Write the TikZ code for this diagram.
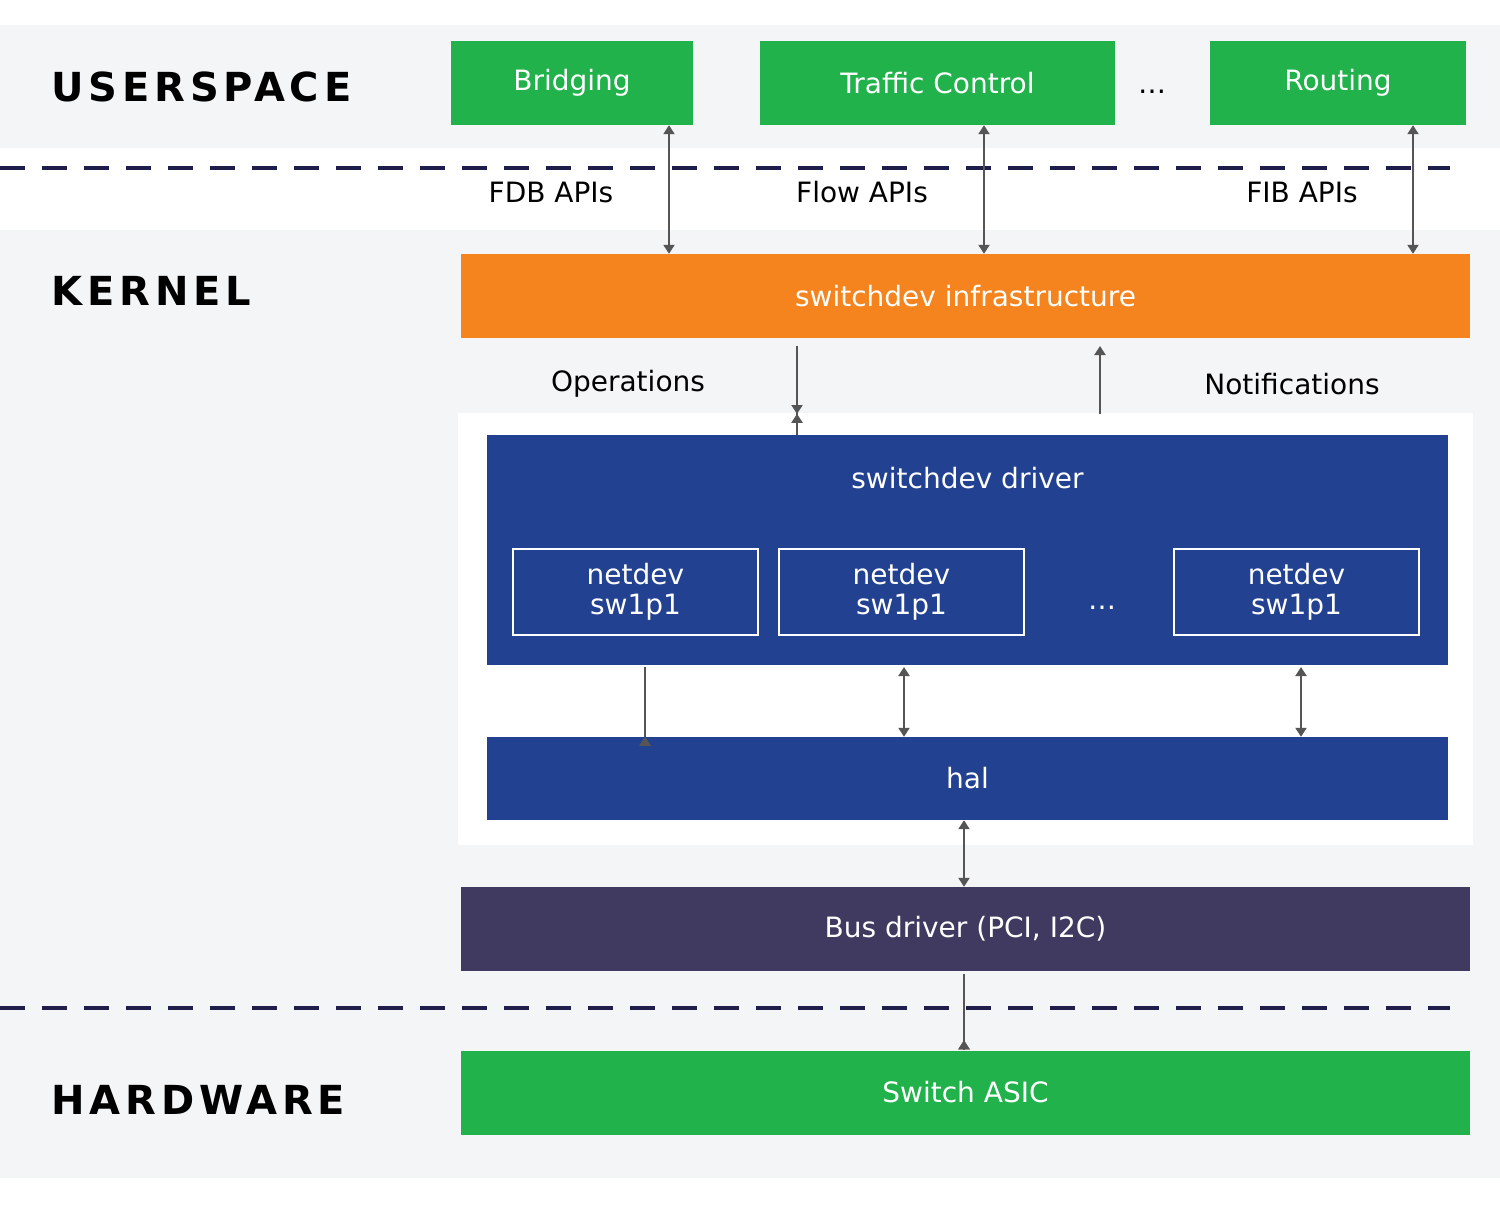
\documentclass[tikz,border=0pt]{standalone}
\usepackage{fontspec}
\setmainfont{DejaVu Sans}
\newfontfamily\headfont{DejaVu Sans}[LetterSpace=12]
\usetikzlibrary{arrows.meta,positioning}
\definecolor{bggrey}{HTML}{F4F5F7}
\definecolor{boxgreen}{HTML}{21B24B}
\definecolor{boxorange}{HTML}{F5841F}
\definecolor{boxblue}{HTML}{224191}
\definecolor{boxpurple}{HTML}{403A60}
\definecolor{dashnavy}{HTML}{1F1D4A}
\definecolor{arrgrey}{HTML}{555555}

\begin{document}
\begin{tikzpicture}[x=1pt,y=-1pt]
\tikzset{font={\fontsize{28}{32}\selectfont}}
\tikzset{
  blk/.style={draw=none,inner sep=0pt,text=white,minimum height=#1},
  blk/.default=84pt,
  layer/.style={font={\headfont\bfseries\fontsize{40}{44}\selectfont},anchor=west},
  port/.style={draw=white,line width=2.5pt,text=white,inner sep=0pt,minimum width=245pt,minimum height=86pt,align=center,font={\fontsize{28}{30}\selectfont}},
  dbl/.style={{Triangle[length=9pt,width=11pt]}-{Triangle[length=9pt,width=11pt]},line width=2pt,arrgrey},
  one/.style={-{Triangle[length=9pt,width=11pt]},line width=2pt,arrgrey},
  sep/.style={dashnavy,line width=4.5pt,dash pattern=on 25pt off 17pt},
}
\useasboundingbox (0,0) rectangle (1500,1205);
%Background
\fill[white] (0,0) rectangle (1500,1205);
\fill[bggrey] (0,25) rectangle (1500,148);
\fill[bggrey] (0,230) rectangle (1500,1178);
\fill[white] (458,413) rectangle (1473,845);
\draw[sep] (0,168) -- (1450,168);
\draw[sep] (0,1008) -- (1450,1008);

%Layers
\node[layer] (user) at (48,87) {USERSPACE};
\node[layer] (kern) at (48,291) {KERNEL};
\node[layer] (hw) at (48,1100) {HARDWARE};

%Userspace
\node[blk,fill=boxgreen,minimum width=242pt] (bridge) at (572,83) {Bridging};
\node[blk,fill=boxgreen,minimum width=355pt] (tc) at (937.5,83) {Traffic Control};
\node[blk,fill=boxgreen,minimum width=256pt] (route) at (1338,83) {Routing};
\node (udots) at (1152,92) {\dots};

%Kernel
\node[blk,fill=boxorange,minimum width=1009pt] (infra) at (965.5,296) {switchdev infrastructure};
\node (fdb) at (551,192) {FDB APIs};
\node (flow) at (862,192) {Flow APIs};
\node (fib) at (1302,192) {FIB APIs};
\draw[dbl] (bridge.south -| 669,0) -- (infra.north -| 669,0);
\draw[dbl] (tc.south -| 984,0) -- (infra.north -| 984,0);
\draw[dbl] (route.south -| 1413,0) -- (infra.north -| 1413,0);

\node[blk=230pt,fill=boxblue,minimum width=961pt] (drv) at (967.5,550) {};
\node[text=white] (drvlbl) at (967.5,478) {switchdev driver};
\node (ops) at (628,384) {Operations};
\node (notif) at (1292,384) {Notifications};
\coordinate (opstop) at (797,346);
\coordinate (nottop) at (1100,346);
\draw[one] (opstop) -- (opstop |- drv.north) ++(0,-21);
\draw[one] (opstop) -- (797,414);
\draw[one] (1100,414) -- (nottop);

\node[port] (nd1) at (635.5,592) {netdev\\sw1p1};
\node[port] (nd2) at (901.5,592) {netdev\\sw1p1};
\node[port] (nd3) at (1296.5,592) {netdev\\sw1p1};
\node[text=white] (ddots) at (1102,608) {\dots};

\node[blk=83pt,fill=boxblue,minimum width=961pt] (hal) at (967.5,778.5) {hal};
\draw[dbl] (645,667) -- (hal.north -| 645,0) ++(0,0);
\draw[dbl] (904,667) -- (hal.north -| 904,0);
\draw[dbl] (1301,667) -- (hal.north -| 1301,0);

\node[blk,fill=boxpurple,minimum width=1009pt] (bus) at (965.5,929) {Bus driver (PCI, I2C)};
\draw[dbl] (hal.south -| 964,0) -- (bus.north -| 964,0);

%Hardware
\node[blk,fill=boxgreen,minimum width=1009pt] (asic) at (965.5,1092.5) {Switch ASIC};
\draw[dbl] (964,974) -- (asic.north -| 964,0) ++(0,-10);
\end{tikzpicture}
\end{document}
